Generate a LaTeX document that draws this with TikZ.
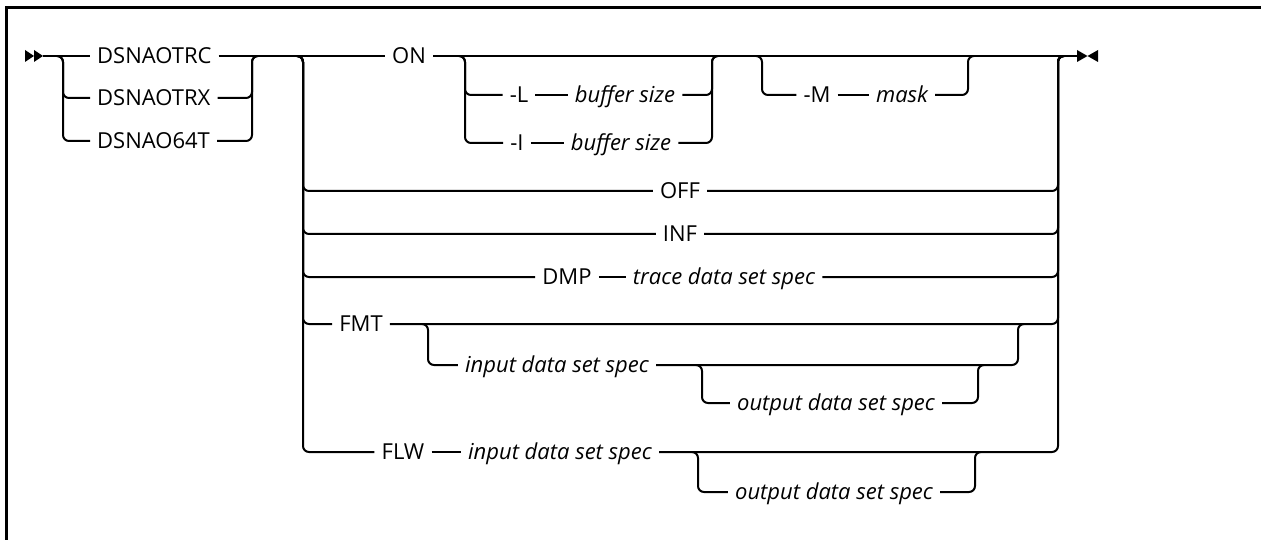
\documentclass[tikz,border=0pt]{standalone}
\usepackage{fontspec}
\setmainfont{Open Sans}
\usetikzlibrary{arrows.meta}

\begin{document}
\begin{tikzpicture}[x=1pt,y=-1pt,
  rail/.style={line width=2pt,rounded corners=6pt},
  kw/.style={font=\fontsize{22}{26}\selectfont,inner xsep=7pt,inner ysep=0pt,text height=15.5pt,text depth=0pt},
  var/.style={kw,font=\fontsize{22}{26}\selectfont\itshape}]
\useasboundingbox (0,0) rectangle (1261,540);
\draw [line width=3pt] (6,540) -- (6,8) -- (1261,8);

\coordinate (begin) at (43,56);
\coordinate (a1) at (63,56);
\coordinate (b1) at (252,56);
\coordinate (a2) at (303,56);
\coordinate (b2) at (1058,56);
\coordinate (a3) at (465,56);
\coordinate (b3) at (712,56);
\coordinate (a4) at (762,56);
\coordinate (b4) at (968,56);
\coordinate (a5) at (428,324);
\coordinate (b5) at (1018,324);
\coordinate (a6) at (702,365);
\coordinate (b6) at (978,365);
\coordinate (a7) at (698,452);
\coordinate (b7) at (975,452);
\coordinate (finish) at (1077,56);

\node [kw,anchor=west] (trc) at (90,56) {DSNAOTRC};
\node [kw,anchor=west] (trx) at (90,98) {DSNAOTRX};
\node [kw,anchor=west] (t64) at (90,141) {DSNAO64T};
\node [kw] (on) at (409,56) {ON};
\node [kw] (optl) at (519,95) {-L};
\node [var] (bufl) at (625,95) {buffer size};
\node [kw] (opti) at (517,143) {-I};
\node [var] (bufi) at (621,143) {buffer size};
\node [kw] (optm) at (817,95) {-M};
\node [var] (mask) at (902,95) {mask};
\node [kw] (off) at (680,191) {OFF};
\node [kw] (inf) at (680,234) {INF};
\node [kw] (dmp) at (567,277) {DMP};
\node [var] (trace) at (724,277) {trace data set spec};
\node [kw] (fmt) at (361,324) {FMT};
\node [var] (fmtin) at (557,365) {input data set spec};
\node [var] (fmtout) at (836,403) {output data set spec};
\node [kw] (flw) at (403,452) {FLW};
\node [var] (flwin) at (560,452) {input data set spec};
\node [var] (flwout) at (834,492) {output data set spec};

\fill (begin) ++(-18,-6) -- ++(9,6) -- ++(-9,6) -- cycle;
\fill (begin) ++(-9,-6) -- ++(9,6) -- ++(-9,6) -- cycle;
\fill (finish) ++(0,-6) -- ++(10.5,6) -- ++(-10.5,6) -- cycle;
\fill (finish) ++(21,-6) -- ++(-10.5,6) -- ++(10.5,6) -- cycle;

\draw [rail] (begin) -- (trc.west);
\draw [rail] (trc.east) -- (on.west);
\draw [rail] (on.east) -- (finish);
\draw [rail] ([xshift=-6pt]a1) -- (a1) -- (a1 |- trx.west) -- (trx.west);
\draw [rail] ([xshift=-6pt]a1) -- (a1) -- (a1 |- t64.west) -- (t64.west);
\draw [rail] (trx.east) -- (b1 |- trx.east) -- (b1) -- ([xshift=6pt]b1);
\draw [rail] (t64.east) -- (b1 |- t64.east) -- (b1) -- ([xshift=6pt]b1);

\draw [rail] ([xshift=-6pt]a3) -- (a3) -- (a3 |- optl.west) -- (optl.west);
\draw [rail] ([xshift=-6pt]a3) -- (a3) -- (a3 |- opti.west) -- (opti.west);
\draw [rail] (optl.east) -- (bufl.west);
\draw [rail] (opti.east) -- (bufi.west);
\draw [rail] (bufl.east) -- (b3 |- bufl.east) -- (b3) -- ([xshift=6pt]b3);
\draw [rail] (bufi.east) -- (b3 |- bufi.east) -- (b3) -- ([xshift=6pt]b3);
\draw [rail] ([xshift=-6pt]a4) -- (a4) -- (a4 |- optm.west) -- (optm.west);
\draw [rail] (optm.east) -- (mask.west);
\draw [rail] (mask.east) -- (b4 |- mask.east) -- (b4) -- ([xshift=6pt]b4);

\draw [rail] ([xshift=-6pt]a2) -- (a2) -- (a2 |- off.west) -- (off.west);
\draw [rail] ([xshift=-6pt]a2) -- (a2) -- (a2 |- inf.west) -- (inf.west);
\draw [rail] ([xshift=-6pt]a2) -- (a2) -- (a2 |- dmp.west) -- (dmp.west);
\draw [rail] ([xshift=-6pt]a2) -- (a2) -- (a2 |- fmt.west) -- (fmt.west);
\draw [rail] ([xshift=-6pt]a2) -- (a2) -- (a2 |- flw.west) -- (flw.west);
\draw [rail] (off.east) -- (b2 |- off.east) -- (b2) -- ([xshift=6pt]b2);
\draw [rail] (inf.east) -- (b2 |- inf.east) -- (b2) -- ([xshift=6pt]b2);
\draw [rail] (trace.east) -- (b2 |- trace.east) -- (b2) -- ([xshift=6pt]b2);
\draw [rail] (fmt.east) -- (b2 |- fmt.east) -- (b2) -- ([xshift=6pt]b2);
\draw [rail] (flwin.east) -- (b2 |- flwin.east) -- (b2) -- ([xshift=6pt]b2);
\draw [rail] (dmp.east) -- (trace.west);
\draw [rail] (flw.east) -- (flwin.west);

\draw [rail] ([xshift=-6pt]a5) -- (a5) -- (a5 |- fmtin.west) -- (fmtin.west);
\draw [rail] (fmtin.east) -- (b5 |- fmtin.east) -- (b5) -- ([xshift=6pt]b5);
\draw [rail] ([xshift=-6pt]a6) -- (a6) -- (a6 |- fmtout.west) -- (fmtout.west);
\draw [rail] (fmtout.east) -- (b6 |- fmtout.east) -- (b6) -- ([xshift=6pt]b6);
\draw [rail] ([xshift=-6pt]a7) -- (a7) -- (a7 |- flwout.west) -- (flwout.west);
\draw [rail] (flwout.east) -- (b7 |- flwout.east) -- (b7) -- ([xshift=6pt]b7);
\end{tikzpicture}
\end{document}
